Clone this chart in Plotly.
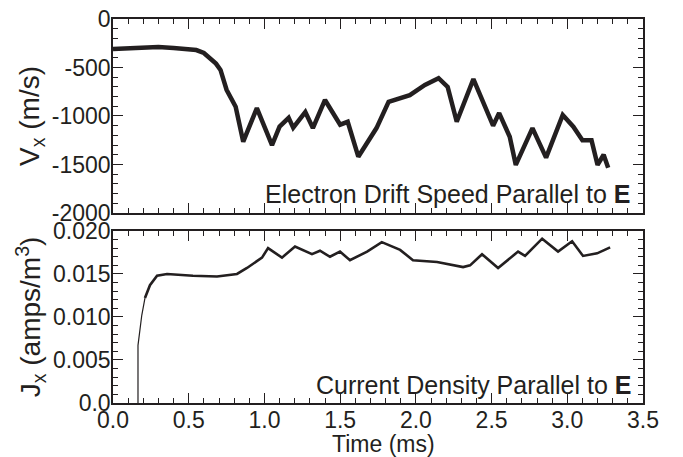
"""Electron drift speed and current density parallel to E, two stacked panels."""

import plotly.graph_objects as go

# Top panel: drift speed Vx (m/s) vs time (ms)
TIME_V = [0.00, 0.10, 0.20, 0.30, 0.40, 0.50, 0.55, 0.60, 0.64, 0.68, 0.71, 0.75,
          0.81, 0.86, 0.95, 1.05, 1.10, 1.16, 1.19, 1.27, 1.32, 1.40, 1.50, 1.55,
          1.62, 1.74, 1.82, 1.96, 2.06, 2.15, 2.21, 2.27, 2.38, 2.51, 2.55, 2.62,
          2.66, 2.77, 2.86, 2.97, 3.04, 3.10, 3.16, 3.20, 3.24, 3.27]
VX = [-310, -300, -300, -290, -300, -310, -320, -350, -400, -460, -525, -730,
      -905, -1265, -920, -1300, -1110, -1020, -1120, -960, -1125, -835, -1090, -1060,
      -1420, -1125, -855, -785, -680, -610, -700, -1060, -620, -1100, -970, -1215,
      -1505, -1125, -1430, -990, -1110, -1250, -1250, -1505, -1400, -1535]

# Bottom panel: current density Jx (amps/m^3); thin turn-on segment then main curve
TIME_J_ON = [0.165, 0.165, 0.19, 0.211]
JX_ON = [0.0, 0.0067, 0.0102, 0.0122]
TIME_J = [0.211, 0.244, 0.291, 0.357, 0.528, 0.687, 0.819, 0.885, 0.984, 1.024,
          1.116, 1.202, 1.314, 1.367, 1.433, 1.499, 1.565, 1.678, 1.775, 1.896,
          1.981, 2.140, 2.312, 2.358, 2.437, 2.543, 2.675, 2.721, 2.834, 2.939,
          3.032, 3.104, 3.197, 3.283]
JX = [0.0122, 0.0137, 0.0148, 0.0150, 0.0148, 0.0147, 0.0150, 0.0157, 0.0169, 0.0180,
      0.0169, 0.0182, 0.0173, 0.0177, 0.0170, 0.0176, 0.0166, 0.0176, 0.0187, 0.0178,
      0.0166, 0.0164, 0.0158, 0.0160, 0.0173, 0.0157, 0.0176, 0.0171, 0.0191, 0.0176,
      0.0188, 0.0171, 0.0174, 0.0181]

V_TICKS = [0, -500, -1000, -1500, -2000]
V_TICKTEXT = ["0", "-500", "-1000", "-1500", "-2000"]
J_TICKS = [0.0, 0.005, 0.010, 0.015, 0.020]
J_TICKTEXT = ["0.0", "0.005", "0.010", "0.015", "0.020"]
X_TICKS = [0.0, 0.5, 1.0, 1.5, 2.0, 2.5, 3.0, 3.5]
X_TICKTEXT = ["0.0", "0.5", "1.0", "1.5", "2.0", "2.5", "3.0", "3.5"]

INK = "#231f20"
FONT = dict(family="Liberation Sans, Arial, sans-serif", size=23, color=INK)

fig = go.Figure()
fig.add_trace(go.Scatter(x=TIME_V, y=VX, mode="lines", xaxis="x", yaxis="y",
                         line=dict(color=INK, width=4.5)))
fig.add_trace(go.Scatter(x=TIME_J_ON, y=JX_ON, mode="lines", xaxis="x2", yaxis="y2",
                         line=dict(color=INK, width=1.2)))
fig.add_trace(go.Scatter(x=TIME_J, y=JX, mode="lines", xaxis="x2", yaxis="y2",
                         line=dict(color=INK, width=2.6)))

axis_common = dict(
    showline=True, linecolor=INK, linewidth=1.5, mirror="allticks",
    ticks="inside", ticklen=10, tickwidth=1.4, tickcolor=INK,
    showgrid=False, zeroline=False, automargin=False,
)
minor_x = dict(ticks="inside", dtick=0.1, ticklen=5, tickcolor=INK, tickwidth=1.2, showgrid=False)
minor_v = dict(ticks="inside", dtick=100, ticklen=5, tickcolor=INK, tickwidth=1.2, showgrid=False)
minor_j = dict(ticks="inside", dtick=0.001, ticklen=5, tickcolor=INK, tickwidth=1.2, showgrid=False)

fig.update_layout(
    width=683, height=457, showlegend=False,
    margin=dict(l=113, r=40, t=19, b=54),
    paper_bgcolor="white", plot_bgcolor="white",
    font=FONT,
    xaxis=dict(axis_common, domain=[0, 1], range=[0, 3.5], anchor="y",
               tickvals=X_TICKS, showticklabels=False, minor=minor_x),
    yaxis=dict(axis_common, domain=[0.495, 1], range=[-2000, 0], anchor="x",
               tickvals=V_TICKS, ticktext=V_TICKTEXT, minor=minor_v, ticklabelstandoff=-4,
               title=dict(text="V<sub>x</sub> (m/s)", standoff=4)),
    xaxis2=dict(axis_common, domain=[0, 1], range=[0, 3.5], anchor="y2", matches="x",
                tickvals=X_TICKS, ticktext=X_TICKTEXT, minor=minor_x, ticklabelstandoff=-4),
    yaxis2=dict(axis_common, domain=[0, 0.448], range=[0, 0.020], anchor="x2",
                tickvals=J_TICKS, ticktext=J_TICKTEXT, minor=minor_j, ticklabelstandoff=-4,
                title=dict(text="J<sub>x</sub> (amps/m<sup>3</sup>)", standoff=4)),
    annotations=[
        dict(text="Electron Drift Speed Parallel to <b>E</b>", xref="paper", yref="paper",
             x=0.979, y=0.544, xanchor="right", yanchor="middle", showarrow=False,
             font=dict(size=25)),
        dict(text="Current Density Parallel to <b>E</b>", xref="paper", yref="paper",
             x=0.981, y=0.047, xanchor="right", yanchor="middle", showarrow=False,
             font=dict(size=25)),
        dict(text="Time (ms)", xref="paper", yref="paper",
             x=(383 - 113) / 530, y=-0.106, xanchor="center", yanchor="middle",
             showarrow=False, font=dict(size=23)),
    ],
)

# the page's default 8px body margin would shift the whole figure
fig.write_html("out.html", config={"displayModeBar": False},
               post_script="document.body.style.margin='0';")
